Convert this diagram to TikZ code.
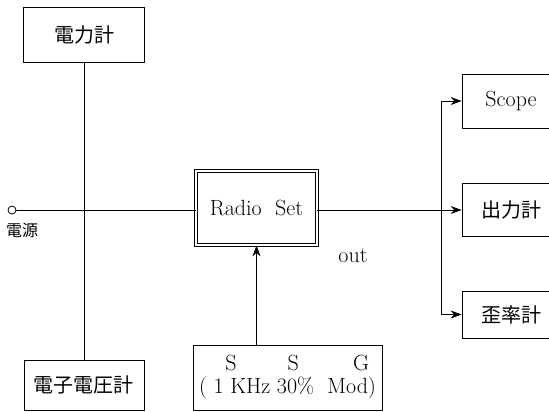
\documentclass[tikz,border=0pt]{standalone}
\usepackage{fontspec}
\newfontfamily\cjk{Noto Sans CJK JP}
\usetikzlibrary{positioning,arrows.meta}
\tikzset{
    meter/.style={rectangle, draw, line width=0.8pt, inner sep=0pt, font=\cjk\fontsize{20}{24}\selectfont},
    latin box/.style={rectangle, draw, line width=0.8pt, inner sep=0pt, font=\fontsize{22}{23}\selectfont},
    wire/.style={line width=0.8pt},
    signal/.style={line width=0.8pt, -{Stealth[length=11pt, width=8pt]}}
}

\begin{document}
\begin{tikzpicture}[x=1pt, y=-1pt]
    \useasboundingbox (0,0) rectangle (549,412);
    % 計器
    \node[meter, minimum width=121pt, minimum height=55pt] (watt) at (84,34.5) {電力計};
    \node[meter, minimum width=120pt, minimum height=50pt] (evm) at (84,385) {電子電圧計};
    \node[circle, draw, line width=0.8pt, minimum size=8pt, inner sep=0pt] (src) at (12,210) {};
    \node[font=\cjk\fontsize{16}{18}\selectfont] (srclbl) at (22,230) {電源};

    % 受信機と信号発生器
    \node[latin box, double, double distance=2.5pt, minimum width=121pt, minimum height=74pt] (radio) at (256.5,208) {Radio\ \ Set};
    \node[latin box, align=center, minimum width=189pt, minimum height=65pt] (ssg) at (287.5,377.5)
        {\hspace*{19.5pt}S\hspace{51pt}S\hspace{54.5pt}G\\(\ 1\ KHz 30\%\ \ Mod)};
    \node[font=\fontsize{22}{24}\selectfont] (outlbl) at (353,256) {out};

    % 出力側
    \node[latin box, minimum width=98pt, minimum height=54pt] (scope) at (511,101) {Scope};
    \node[meter, minimum width=98pt, minimum height=53pt] (outm) at (511,210) {出力計};
    \node[meter, minimum width=98pt, minimum height=47pt] (dist) at (511,314.5) {歪率計};
    \coordinate (bus) at (441,210);

    % 配線
    \draw[wire] (watt.south) -- (evm.north);
    \draw[wire] (src) -- (radio.west |- src);
    \draw[signal] (radio.east |- src) -- (outm.west);
    \draw[signal] (radio.south |- ssg.north) -- (radio.south);
    \draw[wire] (bus |- scope) -- (bus |- dist);
    \draw[signal] (bus |- scope) -- (scope.west);
    \draw[signal] (bus |- dist) -- (dist.west);
\end{tikzpicture}
\end{document}
